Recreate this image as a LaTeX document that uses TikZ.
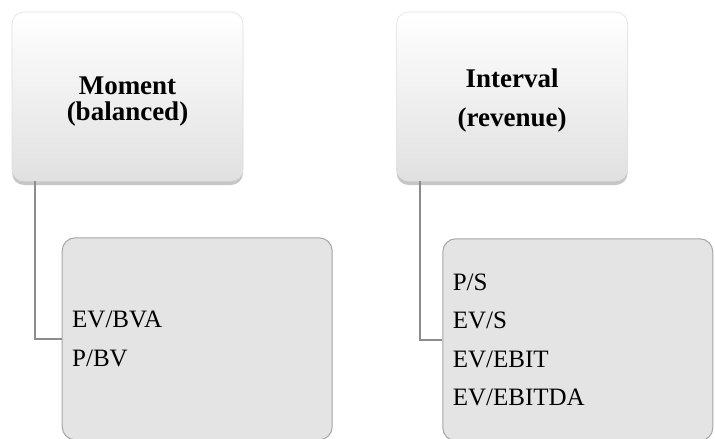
\documentclass[tikz,border=0pt]{standalone}
\usepackage{fontspec}
\setmainfont{Liberation Serif}
\usetikzlibrary{positioning,shadows}

\definecolor{listfill}{HTML}{E4E4E4}
\definecolor{listline}{HTML}{A6A6A6}
\definecolor{linkgray}{HTML}{8C8C8C}

\tikzset{
    headbox/.style={rectangle, rounded corners=12pt, draw=black!12, line width=0.6pt,
        top color=white, middle color=white, bottom color=black!12,
        drop shadow={shadow xshift=0pt, shadow yshift=-4pt, opacity=0.45},
        minimum width=231pt, minimum height=169pt, align=center, text height=65pt,
        font=\bfseries\fontsize{27}{38.7}\selectfont},
    listbox/.style={rectangle, rounded corners=13pt, draw=listline, line width=1pt,
        fill=listfill, minimum width=270pt, minimum height=202pt,
        text width=250pt, inner xsep=10pt, align=left, anchor=north west,
        font=\fontsize{25}{38.3}\selectfont},
    link/.style={draw=linkgray, line width=2pt}
}

\begin{document}
\begin{tikzpicture}
    \useasboundingbox (0,0) rectangle (715pt,-439pt);
    \node[headbox, text height=54pt, font=\bfseries\fontsize{27}{26}\selectfont] (momenthead)
        at (127.5pt,-96.5pt) {Moment\\(balanced)};
    \node[headbox, right=153pt of momenthead] (intervalhead) {Interval\\(revenue)};
    \node[listbox] (momentlist) at ([xshift=50pt,yshift=-56pt]momenthead.south west)
        {EV/BVA\\P/BV};
    \node[listbox] (intervallist) at ([xshift=46pt,yshift=-57pt]intervalhead.south west)
        {P/S\\EV/S\\EV/EBIT\\EV/EBITDA};
    \draw[link] ([xshift=23pt]momenthead.south west) |- (momentlist.west);
    \draw[link] ([xshift=24pt]intervalhead.south west) |- (intervallist.west);
\end{tikzpicture}
\end{document}
